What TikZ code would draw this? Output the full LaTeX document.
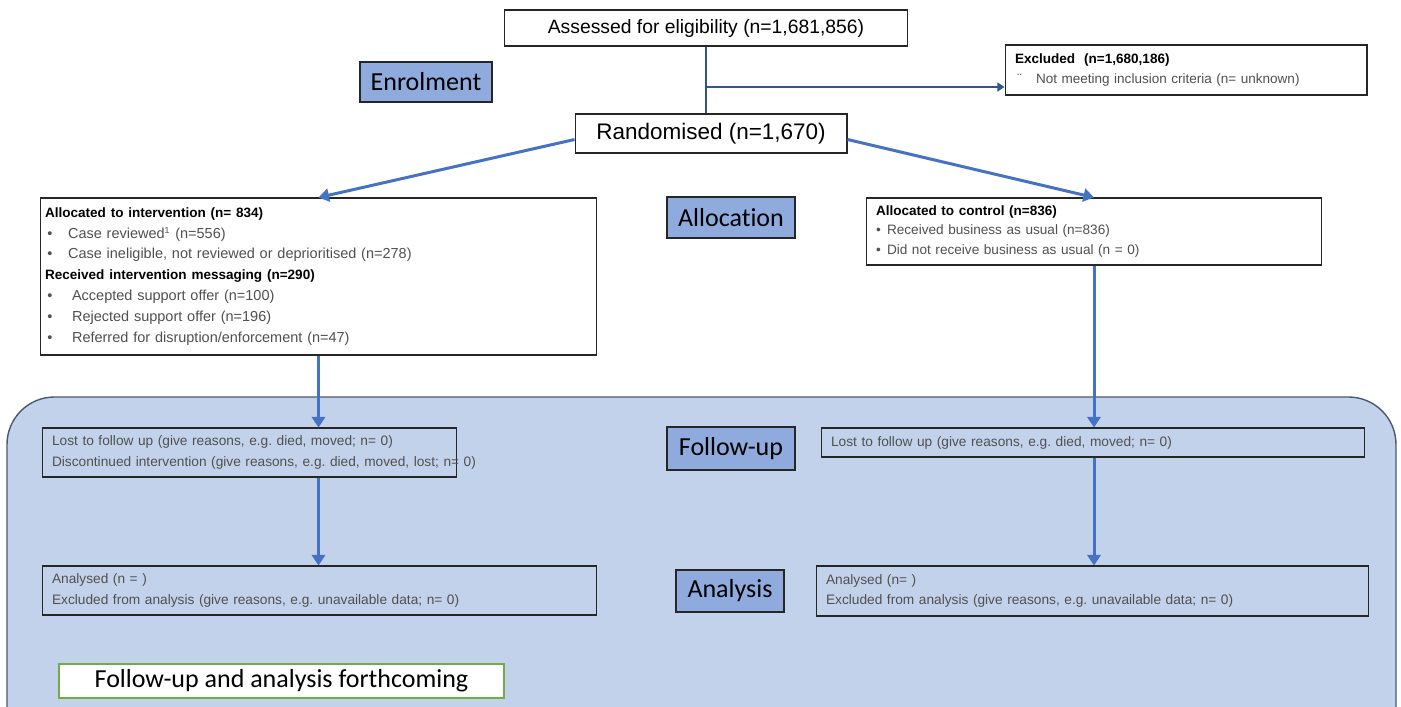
\documentclass[tikz,border=0pt]{standalone}
\usepackage{fontspec}
\setmainfont{Liberation Sans}
\newfontfamily\calibri[Ligatures=NoCommon]{Carlito}
\usetikzlibrary{arrows, arrows.meta}
\usetikzlibrary{calc}
\definecolor{arrowblue}{HTML}{4472C4}
\definecolor{darkblue}{HTML}{2F5597}
\definecolor{stagefill}{HTML}{8FAADC}
\definecolor{panelfill}{HTML}{C3D2EB}
\definecolor{panelline}{HTML}{4A5870}
\definecolor{boxline}{HTML}{262626}
\definecolor{txtgray}{HTML}{505050}
\definecolor{okgreen}{HTML}{70AD47}
\tikzset{
  infobox/.style={draw=boxline, line width=0.6pt, inner xsep=0.2cm, inner ysep=0pt, align=left,
    font=\fontsize{7.8}{11.5}\selectfont},
  titlebox/.style={draw=boxline, line width=0.6pt, fill=white, align=center},
  stagebox/.style={draw=boxline, line width=0.6pt, fill=stagefill, font=\calibri\fontsize{14.8}{16}\selectfont},
  flow/.style={draw=arrowblue, line width=1.7pt, -{Triangle[width=7.5pt,length=6pt]}},
}
\newcommand{\bulA}{\makebox[0.46cm][l]{\,\textbullet}}
\newcommand{\bulB}{\makebox[0.54cm][l]{\,\textbullet}}
\newcommand{\bulC}{\makebox[0.22cm][l]{\textbullet}}
\newcommand{\headfont}{\fontsize{7.7}{11.9}\selectfont\bfseries}
\begin{document}
\frenchspacing
\begin{tikzpicture}[x=0.02cm, y=-0.02cm]
      \useasboundingbox (0,0) rectangle (1401,707);

      % follow-up and analysis panel
      \draw[panelline, fill=panelfill, line width=0.8pt, rounded corners=0.95cm] (7,397) rectangle (1396,760);

      % enrolment
      \node[titlebox, minimum width=8.08cm, minimum height=0.72cm, font=\fontsize{11}{13}\selectfont] (assess) at (706,28) {Assessed for eligibility (n=1,681,856)};
      \node[stagebox, minimum width=2.64cm, minimum height=0.8cm] (enrol) at (426,82) {Enrolment};
      \node[infobox, fill=white, minimum width=7.24cm, minimum height=1.0cm, text width=6.84cm, font=\fontsize{7.7}{11}\selectfont] (excl) at (1186,70)
        {{\headfont Excluded\ \ (n=1,680,186)}\\
         \textcolor{txtgray}{\makebox[0.42cm][l]{\,¨}Not meeting inclusion criteria (n= unknown)}};
      \node[titlebox, minimum width=5.44cm, minimum height=0.78cm, font=\fontsize{12.8}{14}\selectfont] (rand) at (711,133.5) {Randomised (n=1,670)};
      \coordinate (branch) at (706,87);

      % allocation
      \node[stagebox, minimum width=2.56cm, minimum height=0.82cm] (alloc) at (731,217.5) {Allocation};
      \node[infobox, fill=white, inner xsep=0.1cm, minimum width=11.14cm, minimum height=3.14cm, text width=10.94cm, font=\fontsize{8.25}{11.9}\selectfont] (interv) at (318.5,276.5)
        {{\headfont Allocated to intervention (n= 834)}\\
         \textcolor{txtgray}{\bulA Case reviewed\textsuperscript{\fontsize{5}{6}\selectfont 1} (n=556)}\\
         \textcolor{txtgray}{\bulA Case ineligible, not reviewed or deprioritised (n=278)}\\
         {\headfont Received intervention messaging (n=290)}\\
         \textcolor{txtgray}{\bulB Accepted support offer (n=100)}\\
         \textcolor{txtgray}{\bulB Rejected support offer (n=196)}\\
         \textcolor{txtgray}{\bulB Referred for disruption/enforcement (n=47)}};
      \node[infobox, fill=white, minimum width=9.12cm, minimum height=1.34cm, text width=8.72cm, font=\fontsize{7.75}{11.2}\selectfont] (ctrl) at (1094,231.5)
        {{\headfont Allocated to control (n=836)}\\
         \textcolor{txtgray}{\bulC Received business as usual (n=836)}\\
         \textcolor{txtgray}{\bulC Did not receive business as usual (n = 0)}};

      % follow-up
      \node[stagebox, minimum width=2.56cm, minimum height=0.86cm] (fustage) at (731,448.5) {Follow-up};
      \node[infobox, minimum width=8.3cm, minimum height=0.98cm, text width=7.9cm, text=txtgray] (fuL) at (249.5,452.5)
        {Lost to follow up (give reasons, e.g. died, moved; n= 0)\\
         \mbox{Discontinued intervention (give reasons, e.g. died, moved, lost; n= 0)}};
      \node[infobox, minimum width=10.88cm, minimum height=0.58cm, text width=10.48cm, text=txtgray] (fuR) at (1093,442.5)
        {Lost to follow up (give reasons, e.g. died, moved; n= 0)};

      % analysis
      \node[stagebox, minimum width=2.16cm, minimum height=0.84cm] (anstage) at (730,591) {Analysis};
      \node[infobox, minimum width=11.1cm, minimum height=0.98cm, text width=10.7cm, text=txtgray] (anL) at (319.5,590.5)
        {Analysed (n = )\\
         Excluded from analysis (give reasons, e.g. unavailable data; n= 0)};
      \node[infobox, minimum width=11.06cm, minimum height=1.0cm, text width=10.66cm, text=txtgray] (anR) at (1092.5,591)
        {Analysed (n= )\\
         Excluded from analysis (give reasons, e.g. unavailable data; n= 0)};
      \node[draw=okgreen, line width=0.9pt, fill=white, minimum width=8.9cm, minimum height=0.68cm, font=\calibri\fontsize{14.8}{16}\selectfont] (forth) at (281.5,681) {Follow-up and analysis forthcoming};

      % connectors
      \draw[darkblue, line width=1.5pt] (assess.south) -- (assess.south |- rand.north);
      \draw[darkblue, line width=1.5pt, -{Triangle[width=5pt,length=4pt]}] (branch) -- (excl.west |- branch);
      \draw[flow] ($(rand.west)+(0,6)$) -- (interv.north);
      \draw[flow] ($(rand.east)+(0,6)$) -- (ctrl.north);
      \draw[flow] (interv.south) -- (interv.south |- fuL.north);
      \draw[flow] (interv.south |- fuL.south) -- (interv.south |- anL.north);
      \draw[flow] (ctrl.south) -- (ctrl.south |- fuR.north);
      \draw[flow] (ctrl.south |- fuR.south) -- (ctrl.south |- anR.north);
    \end{tikzpicture}
\end{document}
